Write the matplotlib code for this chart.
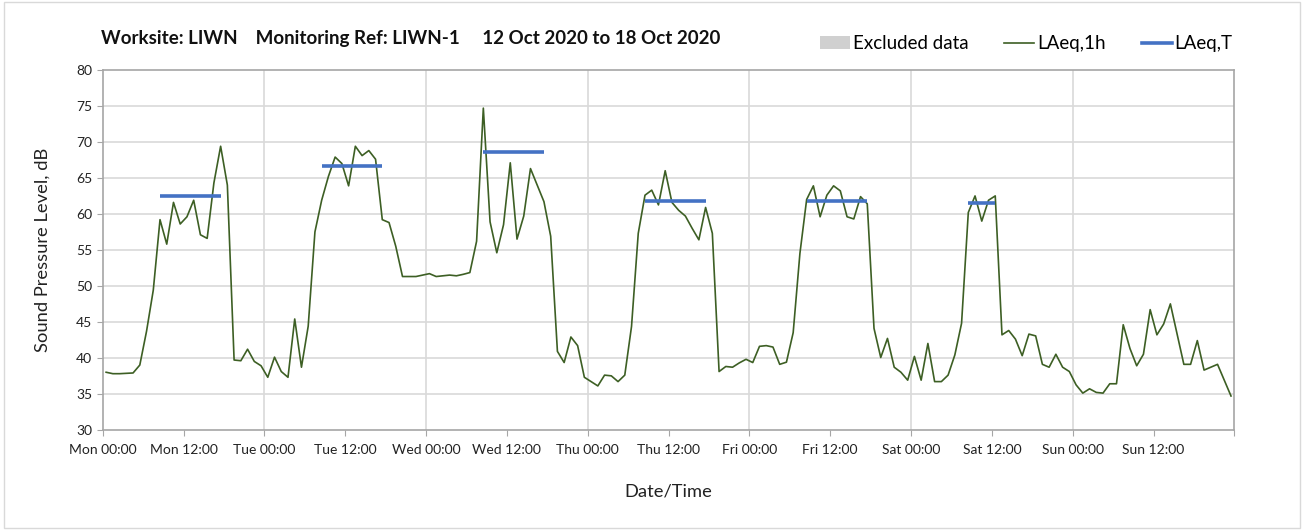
import numpy as np
import matplotlib.pyplot as plt
from matplotlib.patches import Patch, Rectangle
from matplotlib.lines import Line2D

plt.rcParams['font.family'] = ['Lato', 'DejaVu Sans']

# hourly LAeq,1h values, Mon 00:00 .. Sun 23:00
laeq_1h = [
    38.0, 37.8, 37.8, 37.85, 37.9, 39.0, 43.7, 49.4, 59.2, 55.8, 61.6, 58.6,
    59.6, 61.9, 57.1, 56.6, 64.3, 69.4, 64.0, 39.7, 39.6, 41.2, 39.5, 38.9,
    37.3, 40.1, 38.1, 37.3, 45.4, 38.7, 44.4, 57.5, 61.9, 65.2, 67.9, 67.0,
    63.9, 69.4, 68.1, 68.8, 67.6, 59.2, 58.8, 55.5, 51.3, 51.3, 51.3, 51.5,
    51.7, 51.3, 51.4, 51.5, 51.4, 51.6, 51.85, 56.2, 74.7, 58.9, 54.6, 58.5,
    67.1, 56.5, 59.7, 66.3, 64.0, 61.7, 56.9, 40.9, 39.35, 42.9, 41.7, 37.3,
    36.7, 36.1, 37.6, 37.5, 36.7, 37.6, 44.35, 57.3, 62.6, 63.3, 61.25, 66.0,
    61.6, 60.5, 59.7, 58.0, 56.4, 60.9, 57.3, 38.1, 38.8, 38.7, 39.3, 39.8,
    39.35, 41.6, 41.7, 41.5, 39.1, 39.4, 43.5, 54.5, 62.0, 63.9, 59.6, 62.6,
    63.9, 63.2, 59.6, 59.3, 62.4, 61.4, 44.1, 40.05, 42.7, 38.7, 38.0, 36.9,
    40.2, 36.9, 42.0, 36.7, 36.7, 37.6, 40.4, 44.8, 60.2, 62.5, 59.0, 61.9,
    62.5, 43.2, 43.8, 42.6, 40.3, 43.3, 43.05, 39.1, 38.7, 40.5, 38.7, 38.1,
    36.25, 35.1, 35.7, 35.2, 35.1, 36.4, 36.4, 44.6, 41.3, 38.9, 40.5, 46.7,
    43.2, 44.7, 47.5, 43.3, 39.1, 39.1, 42.4, 38.3, 38.7, 39.1, 36.9, 34.7,
]

# LAeq,T periods (start hour, end hour) and levels
period_start = [8, 32, 56, 80, 104, 128]
period_end = [18, 42, 66, 90, 114, 133]
laeq_t = [62.5, 66.7, 68.6, 61.8, 61.8, 61.5]

days = ['Mon', 'Tue', 'Wed', 'Thu', 'Fri', 'Sat', 'Sun']
tick_labels = [f'{d} {t}' for d in days for t in ('00:00', '12:00')] + ['']

green = '#3d5f24'
blue = '#4472c4'
grid_col = '#d9d9d9'

fig = plt.figure(figsize=(13.04, 5.30), dpi=100)
ax = fig.add_axes([0.0788, 0.189, 0.8678, 0.679])

hours = np.arange(len(laeq_1h)) + 0.5
ax.plot(hours, laeq_1h, color=green, lw=1.2, zorder=3)

for s, e, v in zip(period_start, period_end, laeq_t):
    xs = np.arange(s, e) + 0.5
    ax.plot(xs, [v] * len(xs), color=blue, lw=2.6, solid_capstyle='butt', zorder=4)

ax.set_xlim(0, 168)
ax.set_ylim(30, 80)
ax.set_yticks(range(30, 81, 5))
ax.set_xticks(range(0, 169, 12))
ax.set_xticklabels(tick_labels)
ax.grid(False)
for x in range(24, 168, 24):
    ax.axvline(x, color=grid_col, lw=1.2, zorder=1)
for y in range(35, 80, 5):
    ax.axhline(y, color=grid_col, lw=1.2, zorder=1)

for sp in ax.spines.values():
    sp.set_color('#a6a6a6')
    sp.set_linewidth(1.2)
ax.tick_params(axis='both', which='both', direction='out', color='#a6a6a6',
               length=4, labelsize=10, labelcolor='#222222')
ax.tick_params(axis='x', pad=6)

ax.set_ylabel('Sound Pressure Level, dB', fontsize=13.2, color='#222222', labelpad=18)
ax.set_xlabel('Date/Time', fontsize=13.2, color='#222222', labelpad=20)

fig.text(0.0775, 0.928, 'Worksite: LIWN    Monitoring Ref: LIWN-1     12 Oct 2020 to 18 Oct 2020',
         fontsize=13.5, fontweight='bold', color='#111111', va='center')

handles = [Patch(facecolor='#d0d0d0', edgecolor='none'),
           Line2D([], [], color=green, lw=1.2),
           Line2D([], [], color=blue, lw=2.6)]
fig.legend(handles, ['Excluded data', 'LAeq,1h', 'LAeq,T'], loc='center right',
           bbox_to_anchor=(0.958, 0.917), ncol=3, frameon=False, fontsize=13.5,
           handlelength=1.6, handletextpad=0.15, columnspacing=1.9)

fig.patches.append(Rectangle((0.003, 0.004), 0.994, 0.992, transform=fig.transFigure,
                             fill=False, edgecolor='#d9d9d9', lw=1))

fig.savefig('out.png', dpi=100)
